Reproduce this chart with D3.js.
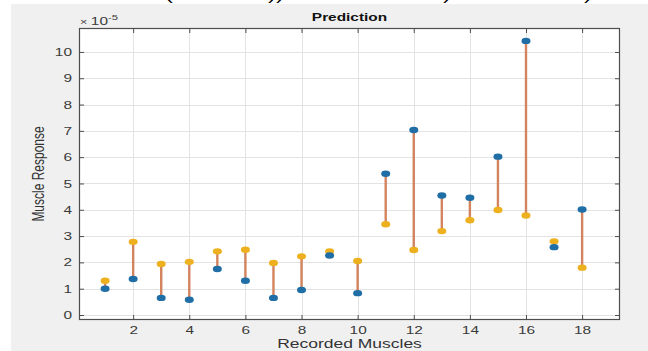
<!DOCTYPE html>
<html>
<head>
<meta charset="utf-8">
<script src="https://cdn.jsdelivr.net/npm/d3@7"></script>
<style>
  html, body { margin: 0; padding: 0; background: #ffffff; }
  svg { display: block; }
  text { font-family: "Liberation Sans", Arial, Helvetica, sans-serif; }
</style>
</head>
<body>
<svg id="chart" width="648" height="351"></svg>
<script>
// Recorded muscles 1..18 and the two response series (units of 1e-5)
const muscles   = d3.range(1, 19);
const recorded  = [1.00, 1.37, 0.65, 0.58, 1.75, 1.30, 0.65, 0.95, 2.26, 0.83,
                   5.37, 7.03, 4.54, 4.46, 6.02, 10.42, 2.58, 4.01];
const predicted = [1.30, 2.78, 1.94, 2.02, 2.42, 2.48, 1.98, 2.23, 2.42, 2.05,
                   3.45, 2.47, 3.19, 3.60, 3.99, 3.78, 2.80, 1.80];
const xTicks = [2, 4, 6, 8, 10, 12, 14, 16, 18];
const yTicks = d3.range(0, 11);

const W = 648, H = 351;
const box = { left: 79, right: 620, top: 28, bottom: 320 };
const sx = 1.4; // horizontal stretch applied to glyphs

const svg = d3.select("#chart");

// figure background
svg.append("rect").attr("x", 11).attr("y", 4).attr("width", W - 11).attr("height", H - 4)
  .attr("fill", "#f0f0f0");

// clipped text line above the figure
const topLine = svg.append("g").attr("font-family", "Liberation Serif, serif")
  .attr("font-size", 17).attr("fill", "#000");
[["(", 169], ["))", 276], [")", 447], [")", 588]].forEach(([t, x]) => {
  topLine.append("text").attr("x", x).attr("y", 0).attr("text-anchor", "middle")
    .attr("transform", `translate(${x},0) scale(${sx},1) translate(${-x},0)`).text(t);
});

const x = d3.scaleLinear().domain([0.07, 19.35]).range([box.left, box.right]);
const y = d3.scaleLinear().domain([-0.19, 10.91]).range([box.bottom, box.top]);

// axes area
svg.append("rect").attr("x", box.left).attr("y", box.top)
  .attr("width", box.right - box.left).attr("height", box.bottom - box.top)
  .attr("fill", "#ffffff");

// grid
const grid = svg.append("g").attr("stroke", "#e3e3e3").attr("stroke-width", 1);
xTicks.forEach(v => grid.append("line")
  .attr("x1", Math.round(x(v)) + 0.5).attr("x2", Math.round(x(v)) + 0.5)
  .attr("y1", box.top).attr("y2", box.bottom));
yTicks.forEach(v => grid.append("line")
  .attr("y1", Math.round(y(v)) + 0.5).attr("y2", Math.round(y(v)) + 0.5)
  .attr("x1", box.left).attr("x2", box.right));

// stems between the two series
const stems = svg.append("g");
muscles.forEach((m, i) => {
  stems.append("line")
    .attr("x1", x(m)).attr("x2", x(m))
    .attr("y1", y(recorded[i])).attr("y2", y(predicted[i]))
    .attr("stroke", "#d4835f").attr("stroke-width", 2.4);
});

// markers
svg.append("g").selectAll("ellipse").data(muscles).join("ellipse")
  .attr("cx", d => x(d)).attr("cy", (d, i) => y(predicted[i]))
  .attr("rx", 4.5).attr("ry", 3.2).attr("fill", "#edb120");
svg.append("g").selectAll("ellipse").data(muscles).join("ellipse")
  .attr("cx", d => x(d)).attr("cy", (d, i) => y(recorded[i]))
  .attr("rx", 4.5).attr("ry", 3.2).attr("fill", "#1f6ea6");

// axes using d3 axis generators, ticks pointing inward
const axCol = "#4d4d4d";
function styleAxis(g) {
  g.select(".domain").remove();
  g.selectAll(".tick line").attr("stroke", axCol);
  g.selectAll(".tick text").attr("fill", "#3a3a3a").attr("font-size", 11)
    .attr("font-family", "Liberation Sans, Arial, sans-serif");
}
const gx = svg.append("g").attr("transform", `translate(0,${box.bottom})`)
  .call(d3.axisBottom(x).tickValues(xTicks).tickSize(-5).tickPadding(6));
styleAxis(gx);
gx.selectAll(".tick text").attr("transform", `scale(${sx},1)`);

const gxTop = svg.append("g").attr("transform", `translate(0,${box.top})`)
  .call(d3.axisTop(x).tickValues(xTicks).tickSize(-5).tickFormat(""));
styleAxis(gxTop);

const gy = svg.append("g").attr("transform", `translate(${box.left},0)`)
  .call(d3.axisLeft(y).tickValues(yTicks).tickSize(-5).tickPadding(7));
styleAxis(gy);
gy.selectAll(".tick text").attr("transform", `scale(${sx},1)`)
  .attr("x", function () { return +d3.select(this).attr("x") / sx; });

const gyR = svg.append("g").attr("transform", `translate(${box.right},0)`)
  .call(d3.axisRight(y).tickValues(yTicks).tickSize(-5).tickFormat(""));
styleAxis(gyR);

// box outline
svg.append("rect").attr("x", box.left + 0.5).attr("y", box.top + 0.5)
  .attr("width", box.right - box.left - 1).attr("height", box.bottom - box.top - 1)
  .attr("fill", "none").attr("stroke", axCol).attr("stroke-width", 1.2);

// exponent label
const ex = svg.append("text").attr("transform", `translate(${box.left + 1},25) scale(${sx},1)`)
  .attr("fill", "#3a3a3a").attr("font-size", 11);
ex.append("tspan").attr("font-size", 9).text("\u00d7 ");
ex.append("tspan").text("10");
ex.append("tspan").attr("font-size", 8).attr("dy", -5).text("-5");

// title
svg.append("text")
  .attr("transform", `translate(${(box.left + box.right) / 2},21) scale(${sx},1)`)
  .attr("text-anchor", "middle").attr("font-weight", "bold").attr("font-size", 11)
  .attr("fill", "#111").text("Prediction");

// axis labels
svg.append("text")
  .attr("transform", `translate(${(box.left + box.right) / 2},348) scale(${sx},1)`)
  .attr("text-anchor", "middle").attr("font-size", 12.5).attr("fill", "#333")
  .text("Recorded Muscles");
svg.append("text")
  .attr("transform", `translate(44,${(box.top + box.bottom) / 2}) scale(${sx},1) rotate(-90)`)
  .attr("text-anchor", "middle").attr("font-size", 12).attr("fill", "#333")
  .text("Muscle Response");
</script>
</body>
</html>
